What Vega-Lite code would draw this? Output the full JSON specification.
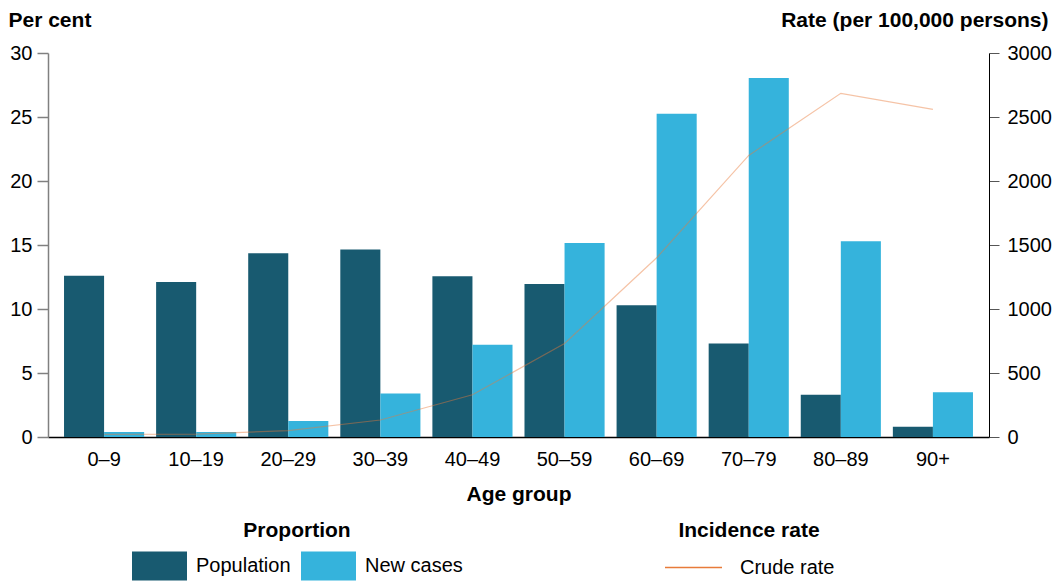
{
  "$schema": "https://vega.github.io/schema/vega-lite/v6.json",
  "width": 941,
  "height": 384,
  "autosize": {"type": "none"},
  "padding": {"left": 48, "top": 53, "right": 68, "bottom": 144},
  "config": {
    "font": "Liberation Sans",
    "view": {"stroke": null},
    "axis": {
      "grid": false,
      "labelFont": "Liberation Sans",
      "labelFontSize": 20,
      "labelColor": "#000000",
      "titleFont": "Liberation Sans",
      "titleFontSize": 21,
      "titleFontWeight": "bold",
      "titleColor": "#000000"
    },
    "legend": {
      "padding": 0,
      "labelFont": "Liberation Sans",
      "labelFontSize": 20,
      "labelColor": "#000000",
      "titleFont": "Liberation Sans",
      "titleFontSize": 21,
      "titleFontWeight": "bold",
      "titleColor": "#000000"
    }
  },
  "datasets": {
    "bars": [
      {"age": "0–9", "series": "Population", "pct": 12.6},
      {"age": "0–9", "series": "New cases", "pct": 0.4},
      {"age": "10–19", "series": "Population", "pct": 12.1},
      {"age": "10–19", "series": "New cases", "pct": 0.4},
      {"age": "20–29", "series": "Population", "pct": 14.35},
      {"age": "20–29", "series": "New cases", "pct": 1.25},
      {"age": "30–39", "series": "Population", "pct": 14.65},
      {"age": "30–39", "series": "New cases", "pct": 3.4},
      {"age": "40–49", "series": "Population", "pct": 12.55},
      {"age": "40–49", "series": "New cases", "pct": 7.2},
      {"age": "50–59", "series": "Population", "pct": 11.95},
      {"age": "50–59", "series": "New cases", "pct": 15.15},
      {"age": "60–69", "series": "Population", "pct": 10.3},
      {"age": "60–69", "series": "New cases", "pct": 25.25},
      {"age": "70–79", "series": "Population", "pct": 7.3},
      {"age": "70–79", "series": "New cases", "pct": 28.05},
      {"age": "80–89", "series": "Population", "pct": 3.3},
      {"age": "80–89", "series": "New cases", "pct": 15.3},
      {"age": "90+", "series": "Population", "pct": 0.8},
      {"age": "90+", "series": "New cases", "pct": 3.5}
    ],
    "rates": [
      {"age": "0–9", "measure": "Crude rate", "rate": 20},
      {"age": "10–19", "measure": "Crude rate", "rate": 23},
      {"age": "20–29", "measure": "Crude rate", "rate": 50},
      {"age": "30–39", "measure": "Crude rate", "rate": 133},
      {"age": "40–49", "measure": "Crude rate", "rate": 330},
      {"age": "50–59", "measure": "Crude rate", "rate": 730},
      {"age": "60–69", "measure": "Crude rate", "rate": 1400},
      {"age": "70–79", "measure": "Crude rate", "rate": 2200},
      {"age": "80–89", "measure": "Crude rate", "rate": 2685},
      {"age": "90+", "measure": "Crude rate", "rate": 2560}
    ]
  },
  "layer": [
    {
      "data": {"name": "bars"},
      "mark": {"type": "bar"},
      "encoding": {
        "x": {
          "field": "age",
          "type": "nominal",
          "sort": null,
          "scale": {
            "domain": ["0–9", "10–19", "20–29", "30–39", "40–49", "50–59", "60–69", "70–79", "80–89", "90+"],
            "paddingInner": 0.13,
            "paddingOuter": 0.174
          },
          "axis": {
            "title": "Age group",
            "labelAngle": 0,
            "ticks": false,
            "domainColor": "#000000",
            "domainWidth": 1.5,
            "labelPadding": 12,
            "titlePadding": 14
          }
        },
        "xOffset": {
          "field": "series",
          "type": "nominal",
          "scale": {"domain": ["Population", "New cases"], "paddingInner": 0, "paddingOuter": 0}
        },
        "y": {
          "field": "pct",
          "type": "quantitative",
          "scale": {"domain": [0, 30]},
          "axis": {
            "title": "Per cent",
            "orient": "left",
            "values": [0, 5, 10, 15, 20, 25, 30],
            "tickSize": 11,
            "tickColor": "#808080",
            "tickWidth": 1.5,
            "domainColor": "#808080",
            "domainWidth": 1.5,
            "labelPadding": 5,
            "titleAngle": 0,
            "titleAlign": "left",
            "titleBaseline": "alphabetic",
            "titleX": -40,
            "titleY": -27
          }
        },
        "fill": {
          "field": "series",
          "type": "nominal",
          "scale": {"domain": ["Population", "New cases"], "range": ["#185A70", "#35B3DC"]},
          "legend": {
            "title": "Proportion",
            "orient": "none",
            "legendX": 84,
            "legendY": 467,
            "direction": "horizontal",
            "symbolType": "M-1,-0.53H1V0.53H-1Z",
            "symbolSize": 3025,
            "symbolStrokeWidth": 0,
            "labelOffset": 9,
            "columnPadding": 10,
            "titleAnchor": "middle",
            "titlePadding": -3,
            "encode": {
              "symbols": {
                "update": {
                  "fill": {"signal": "datum.value === 'New cases' ? '#68C6E8' : '#185A70'"}
                }
              }
            }
          }
        }
      }
    },
    {
      "data": {"name": "rates"},
      "mark": {"type": "line", "strokeWidth": 1.2, "strokeOpacity": 0.45},
      "encoding": {
        "x": {"field": "age", "type": "nominal", "sort": null},
        "y": {
          "field": "rate",
          "type": "quantitative",
          "scale": {"domain": [0, 3000]},
          "axis": {
            "title": "Rate (per 100,000 persons)",
            "orient": "right",
            "values": [0, 500, 1000, 1500, 2000, 2500, 3000],
            "format": "d",
            "tickSize": 10,
            "tickColor": "#555555",
            "domainColor": "#000000",
            "domainWidth": 1,
            "labelPadding": 8,
            "titleAngle": 0,
            "titleAlign": "right",
            "titleBaseline": "alphabetic",
            "titleX": 59,
            "titleY": -27
          }
        },
        "stroke": {
          "field": "measure",
          "type": "nominal",
          "scale": {"domain": ["Crude rate"], "range": ["#E87B3A"]},
          "legend": {
            "title": "Incidence rate",
            "orient": "none",
            "legendX": 616,
            "legendY": 467,
            "direction": "horizontal",
            "symbolType": "stroke",
            "symbolSize": 3249,
            "symbolStrokeWidth": 1.5,
            "symbolOpacity": 1,
            "labelOffset": 17,
            "titleAnchor": "middle",
            "titlePadding": -3
          }
        }
      }
    }
  ],
  "resolve": {"scale": {"y": "independent"}}
}
